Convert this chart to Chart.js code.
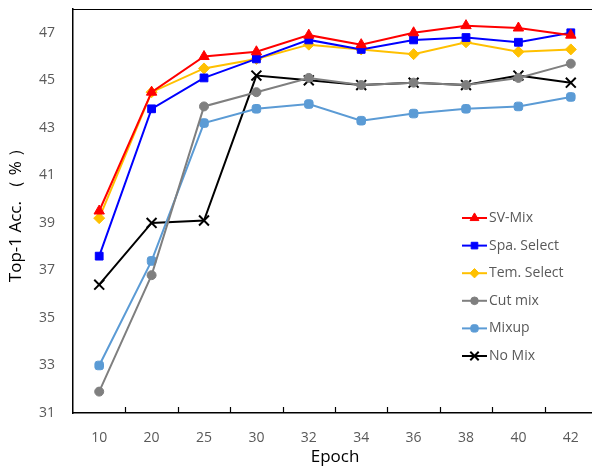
<!DOCTYPE html>
<html lang="en">
<head>
  <meta charset="UTF-8">
  <title>Top-1 Accuracy by Epoch</title>
  <script src="https://cdn.jsdelivr.net/npm/chart.js"></script>
  <style>
    html, body { margin: 0; padding: 0; background: #fff; overflow: hidden; }
    #wrap { width: 606px; height: 468px; }
  </style>
</head>
<body>
  <div id="wrap"><canvas id="accChart"></canvas></div>

  <script>
    const epochs = ["10", "20", "25", "30", "32", "34", "36", "38", "40", "42"];
    const yTicks = [31, 33, 35, 37, 39, 41, 43, 45, 47];

    const svMix     = [39.5, 44.5, 46.0, 46.2, 46.9, 46.5, 47.0, 47.3, 47.2, 46.9];
    const spaSelect = [37.6, 43.8, 45.1, 45.9, 46.7, 46.3, 46.7, 46.8, 46.6, 47.0];
    const temSelect = [39.2, 44.5, 45.5, 45.9, 46.5, 46.3, 46.1, 46.6, 46.2, 46.3];
    const cutMix    = [31.9, 36.8, 43.9, 44.5, 45.1, 44.8, 44.9, 44.8, 45.1, 45.7];
    const mixup     = [33.0, 37.4, 43.2, 43.8, 44.0, 43.3, 43.6, 43.8, 43.9, 44.3];
    const noMix     = [36.4, 39.0, 39.1, 45.2, 45.0, 44.8, 44.9, 44.8, 45.2, 44.9];

    const grayText = "#595959";
    const fontFamily = "'Open Sans', 'Noto Sans', sans-serif";

    function series(label, data, color, style, radius) {
      return {
        label, data,
        borderColor: color,
        backgroundColor: color,
        pointStyle: style,
        pointRadius: radius,
        pointBorderWidth: style === "crossRot" ? 2 : 1,
        borderWidth: 2,
        tension: 0
      };
    }

    const datasets = [
      series("SV-Mix", svMix, "#FF0000", "triangle", 6),
      series("Spa. Select", spaSelect, "#0000FF", "rect", 5.5),
      series("Tem. Select", temSelect, "#FFC000", "rectRot", 5.5),
      series("Cut mix", cutMix, "#7F7F7F", "circle", 4.5),
      series("Mixup", mixup, "#5B9BD5", "rectRounded", 5),
      series("No Mix", noMix, "#000000", "crossRot", 7)
    ];

    // top border line, inner ticks on x axis, floating legend
    const extras = {
      id: "extras",
      afterDraw(chart) {
        const ctx = chart.ctx;
        const area = chart.chartArea;
        const xs = chart.scales.x;
        ctx.save();
        ctx.strokeStyle = "#000";
        ctx.lineWidth = 1.2;
        ctx.beginPath();
        ctx.moveTo(area.left, area.top + 0.5);
        ctx.lineTo(area.right, area.top + 0.5);
        ctx.stroke();

        for (let i = 1; i < epochs.length; i++) {
          const x = Math.round(xs.getPixelForValue(i - 0.5)) + 0.5;
          ctx.beginPath();
          ctx.moveTo(x, area.bottom);
          ctx.lineTo(x, area.bottom - 6);
          ctx.stroke();
        }

        // legend
        const lx0 = 462, lx1 = 487, ly = 218, step = 27.6;
        ctx.font = "14px " + fontFamily;
        ctx.textBaseline = "middle";
        chart.data.datasets.forEach((ds, i) => {
          const y = ly + i * step;
          ctx.strokeStyle = ds.borderColor;
          ctx.fillStyle = ds.backgroundColor;
          ctx.lineWidth = 2;
          ctx.beginPath();
          ctx.moveTo(lx0, y);
          ctx.lineTo(lx1, y);
          ctx.stroke();
          ctx.lineWidth = ds.pointBorderWidth;
          Chart.helpers.drawPoint(ctx, {
            pointStyle: ds.pointStyle,
            radius: ds.pointRadius * 0.85,
            rotation: 0,
            borderWidth: ds.pointBorderWidth
          }, (lx0 + lx1) / 2, y);
          ctx.fillStyle = grayText;
          ctx.fillText(ds.label, lx1 + 2, y);
        });
        ctx.restore();
      }
    };

    new Chart(document.getElementById("accChart"), {
      type: "line",
      data: { labels: epochs, datasets },
      options: {
        responsive: true,
        maintainAspectRatio: false,
        animation: false,
        layout: { padding: { top: 9, right: 0, left: 0, bottom: 0 } },
        plugins: {
          legend: { display: false },
          tooltip: { enabled: false }
        },
        scales: {
          x: {
            offset: true,
            grid: { display: false, drawTicks: false },
            border: { display: true, color: "#000", width: 1.5 },
            ticks: { color: grayText, font: { size: 14, family: fontFamily }, padding: 17, maxRotation: 0 },
            title: {
              display: true, text: "Epoch", color: "#000",
              font: { size: 17, family: fontFamily },
              padding: { top: 0, bottom: 1 }
            },
            afterFit(scale) {
              scale.height = 55;
              scale.paddingLeft = 0;
              scale.paddingRight = 0;
            }
          },
          y: {
            min: 31,
            max: 48,
            grid: { display: false, drawTicks: false },
            border: { display: true, color: "#000", width: 1.5 },
            afterBuildTicks(scale) { scale.ticks = yTicks.map(v => ({ value: v })); },
            ticks: { color: grayText, font: { size: 14, family: fontFamily }, padding: 18 },
            title: {
              display: true, text: "Top-1 Acc. （ % ）", color: "#000",
              font: { size: 17, family: fontFamily },
              padding: { top: 6, bottom: 0 }
            },
            afterFit(scale) {
              scale.width = 73;
              scale.paddingTop = 0;
              scale.paddingBottom = 0;
            }
          }
        }
      },
      plugins: [extras]
    });
  </script>
</body>
</html>
